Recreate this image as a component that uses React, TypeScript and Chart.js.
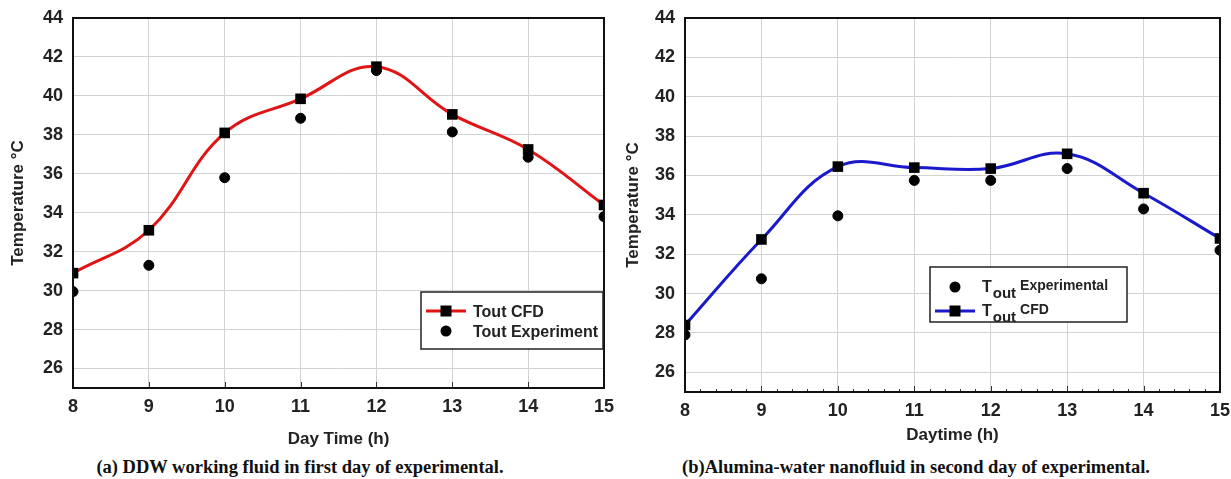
import React, { useEffect, useRef } from "react";
import { Chart, registerables } from "chart.js";

Chart.register(...registerables);

// ---------- data ----------
const hours = [8, 9, 10, 11, 12, 13, 14, 15];
const yTicks = [26, 28, 30, 32, 34, 36, 38, 40, 42, 44];

// (a) DDW working fluid
const ddwCfd = [30.9, 33.1, 38.1, 39.85, 41.5, 39.05, 37.25, 34.4];
const ddwExp = [29.95, 31.3, 35.8, 38.85, 41.3, 38.15, 36.85, 33.8];

// (b) Alumina-water nanofluid
const alCfd = [28.4, 32.75, 36.45, 36.4, 36.35, 37.1, 35.1, 32.8];
const alExp = [27.9, 30.75, 33.95, 35.75, 35.75, 36.35, 34.3, 32.2];

const captionA = "(a) DDW working fluid in first day of experimental.";
const captionB = "(b)Alumina-water nanofluid in second day of experimental.";

const SANS = "'Liberation Sans', Arial, sans-serif";

type LegendItem = {
  kind: "line" | "dot";
  color?: string;
  main: string;
  sub?: string;
  rest?: string;
};

type PanelCfg = {
  width: number;
  cfd: number[];
  exp: number[];
  lineColor: string;
  xTitle: string;
  yWidth: number;
  xHeight: number;
  xTitlePad: number;
  padRight: number;
  minorTicks: boolean;
  legend: { x: number; y: number; w: number; h: number; rowY: number[]; items: LegendItem[] };
};

const framePlugin = {
  id: "frameAndTicks",
  afterDatasetsDraw(chart: any, _args: any, opts: any) {
    const { ctx, chartArea } = chart;
    const xs = chart.scales.x;
    const { left, right, top, bottom } = chartArea;
    ctx.save();
    ctx.strokeStyle = "#333";
    ctx.lineWidth = 1;
    for (let h = 8; h <= 15; h++) {
      const px = Math.round(xs.getPixelForValue(h)) + 0.5;
      ctx.beginPath();
      ctx.moveTo(px, bottom);
      ctx.lineTo(px, bottom - 6);
      ctx.stroke();
      if (opts.minor && h < 15) {
        for (let k = 1; k < 5; k++) {
          const mx = Math.round(xs.getPixelForValue(h + k * 0.2)) + 0.5;
          ctx.beginPath();
          ctx.moveTo(mx, bottom);
          ctx.lineTo(mx, bottom - 3);
          ctx.stroke();
        }
      }
    }
    ctx.strokeStyle = "#111";
    ctx.lineWidth = 2;
    ctx.strokeRect(left, top, right - left, bottom - top);
    ctx.restore();
  },
  afterDraw(chart: any, _args: any, opts: any) {
    const lg = opts.legend;
    if (!lg) return;
    const { ctx } = chart;
    ctx.save();
    ctx.fillStyle = "#fff";
    ctx.fillRect(lg.x, lg.y, lg.w, lg.h);
    ctx.strokeStyle = "#222";
    ctx.lineWidth = 1.5;
    ctx.strokeRect(lg.x, lg.y, lg.w, lg.h);
    lg.items.forEach((it: LegendItem, i: number) => {
      const cy = lg.rowY[i];
      const mx = lg.x + 25;
      if (it.kind === "line") {
        ctx.strokeStyle = it.color;
        ctx.lineWidth = 3;
        ctx.beginPath();
        ctx.moveTo(mx - 20, cy);
        ctx.lineTo(mx + 20, cy);
        ctx.stroke();
        ctx.fillStyle = "#000";
        ctx.fillRect(mx - 5.5, cy - 5.5, 11, 11);
      } else {
        ctx.fillStyle = "#000";
        ctx.beginPath();
        ctx.arc(mx, cy, 5.5, 0, Math.PI * 2);
        ctx.fill();
      }
      ctx.fillStyle = "#222";
      ctx.textBaseline = "alphabetic";
      ctx.textAlign = "left";
      let tx = mx + 27;
      if (it.sub) {
        ctx.font = `bold 16px ${SANS}`;
        ctx.fillText(it.main, tx, cy + 5);
        tx += ctx.measureText(it.main).width + 1;
        ctx.font = `bold 15px ${SANS}`;
        ctx.fillText(it.sub, tx, cy + 11);
        tx += ctx.measureText(it.sub).width + 4;
        ctx.font = `bold 14px ${SANS}`;
        ctx.fillText(it.rest || "", tx, cy + 3);
      } else {
        ctx.font = `bold 16px ${SANS}`;
        ctx.fillText(it.main, tx, cy + 6);
      }
    });
    ctx.restore();
  },
};

function Panel({ cfg, left }: { cfg: PanelCfg; left: number }) {
  const ref = useRef<HTMLCanvasElement>(null);
  useEffect(() => {
    if (!ref.current) return;
    const chart = new Chart(ref.current, {
      type: "line",
      data: {
        datasets: [
          {
            label: "Tout Experiment",
            data: hours.map((h, i) => ({ x: h, y: cfg.exp[i] })),
            showLine: false,
            pointStyle: "circle",
            pointRadius: 5,
            pointBackgroundColor: "#000",
            pointBorderColor: "#000",
            borderColor: "#000",
            order: 2,
          },
          {
            label: "Tout CFD",
            data: hours.map((h, i) => ({ x: h, y: cfg.cfd[i] })),
            borderColor: cfg.lineColor,
            borderWidth: 3,
            tension: 0.4,
            pointStyle: "rect",
            pointRadius: 7.5,
            pointBackgroundColor: "#000",
            pointBorderColor: "#000",
            pointBorderWidth: 0,
            order: 1,
          },
        ],
      },
      options: {
        responsive: false,
        animation: false,
        layout: { padding: { top: 18, right: cfg.padRight, left: 0, bottom: 0 } },
        plugins: {
          legend: { display: false },
          tooltip: { enabled: false },
          frameAndTicks: { minor: cfg.minorTicks, legend: cfg.legend },
        } as any,
        scales: {
          x: {
            type: "linear",
            min: 8,
            max: 15,
            afterBuildTicks: (s: any) => {
              s.ticks = hours.map((v) => ({ value: v }));
            },
            afterFit: (s: any) => {
              s.height = cfg.xHeight;
              s.paddingLeft = 0;
              s.paddingRight = 0;
            },
            grid: { color: "#d2d2d2", lineWidth: 1, drawTicks: false },
            border: { display: false },
            ticks: {
              padding: 8,
              color: "#222",
              font: { family: SANS, size: 18, weight: "bold" },
              maxRotation: 0,
            },
            title: {
              display: true,
              text: cfg.xTitle,
              color: "#222",
              font: { family: SANS, size: 17, weight: "bold" },
              padding: { top: 0, bottom: cfg.xTitlePad },
            },
          },
          y: {
            type: "linear",
            min: 25,
            max: 44,
            afterBuildTicks: (s: any) => {
              s.ticks = yTicks.map((v) => ({ value: v }));
            },
            afterFit: (s: any) => {
              s.width = cfg.yWidth;
              s.paddingTop = 0;
              s.paddingBottom = 0;
            },
            grid: { color: "#d2d2d2", lineWidth: 1, drawTicks: false },
            border: { display: false },
            ticks: {
              padding: 10,
              color: "#222",
              font: { family: SANS, size: 18, weight: "bold" },
            },
            title: {
              display: true,
              text: "Temperature °C",
              color: "#222",
              font: { family: SANS, size: 17, weight: "bold" },
              padding: { top: 8, bottom: 0 },
            },
          },
        },
      },
      plugins: [framePlugin],
    } as any);
    return () => chart.destroy();
  }, [cfg]);
  return (
    <canvas
      ref={ref}
      width={cfg.width}
      height={450}
      style={{ position: "absolute", left, top: 0, width: cfg.width, height: 450 }}
    />
  );
}

const cfgA: PanelCfg = {
  width: 615,
  cfd: ddwCfd,
  exp: ddwExp,
  lineColor: "#e01414",
  xTitle: "Day Time (h)",
  yWidth: 73,
  xHeight: 62,
  xTitlePad: 0,
  padRight: 11,
  minorTicks: false,
  legend: {
    x: 421,
    y: 292,
    w: 182,
    h: 57,
    rowY: [311, 331],
    items: [
      { kind: "line", color: "#e01414", main: "Tout CFD" },
      { kind: "dot", main: "Tout Experiment" },
    ],
  },
};

const cfgB: PanelCfg = {
  width: 616,
  cfd: alCfd,
  exp: alExp,
  lineColor: "#1a1acc",
  xTitle: "Daytime (h)",
  yWidth: 70,
  xHeight: 58,
  xTitlePad: 4,
  padRight: 11,
  minorTicks: true,
  legend: {
    x: 315,
    y: 267,
    w: 197,
    h: 55,
    rowY: [287, 311],
    items: [
      { kind: "dot", main: "T", sub: "out", rest: "Experimental" },
      { kind: "line", color: "#1a1acc", main: "T", sub: "out", rest: "CFD" },
    ],
  },
};

const captionStyle: React.CSSProperties = {
  position: "absolute",
  top: 456,
  fontFamily: "'Liberation Serif', 'Times New Roman', serif",
  fontWeight: "bold",
  fontSize: 18.5,
  color: "#111",
  whiteSpace: "nowrap",
  transform: "translateX(-50%)",
  lineHeight: "22px",
};

export default function App() {
  return (
    <div style={{ position: "absolute", left: 0, top: 0, width: 1231, height: 479, background: "#fff", overflow: "hidden" }}>
      <Panel cfg={cfgA} left={0} />
      <Panel cfg={cfgB} left={615} />
      <div style={{ ...captionStyle, left: 300 }}>{captionA}</div>
      <div style={{ ...captionStyle, left: 916 }}>{captionB}</div>
    </div>
  );
}
